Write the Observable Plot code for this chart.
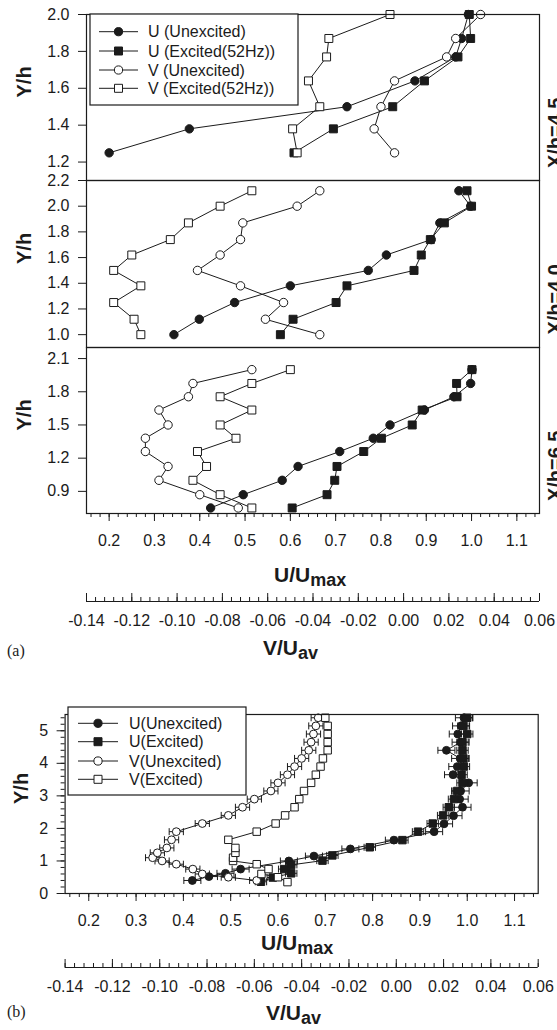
<!DOCTYPE html>
<html>
<head>
<meta charset="utf-8">
<title>Mean velocity profiles</title>
<script src="https://cdn.jsdelivr.net/npm/d3@7"></script>
<script src="https://cdn.jsdelivr.net/npm/@observablehq/plot@0.6"></script>
<style>
  html, body { margin: 0; padding: 0; background: #fff; }
  #fig { position: relative; width: 557px; height: 1030px; overflow: hidden; background: #fff;
         font-family: Arial, "Liberation Sans", Helvetica, sans-serif; }
  .layer { position: absolute; left: 0; width: 557px; }
  .layer svg { display: block; overflow: visible; }
</style>
</head>
<body>
<div id="fig"></div>
<script>
// ---------- shared axes ----------
const U_DOMAIN = [0.15, 1.15];     // U/Umax (bottom axis)
const V_DOMAIN = [-0.14, 0.06];    // V/Uav (secondary axis, same width)
const U_TICKS = [0.2, 0.3, 0.4, 0.5, 0.6, 0.7, 0.8, 0.9, 1.0, 1.1];
const V_TICKS = [-0.14, -0.12, -0.10, -0.08, -0.06, -0.04, -0.02, 0.00, 0.02, 0.04, 0.06];
const U_MINOR = d3.range(0.16, 1.145, 0.02);
const V_MINOR = d3.range(-0.14, 0.0605, 0.004);

// ---------- (a) X/h = 4.5 ----------
const yA45      = [1.25, 1.38, 1.50, 1.64, 1.77, 1.87, 2.00];
const uUnexA45  = [0.200, 0.377, 0.725, 0.875, 0.965, 0.978, 0.993];
const uExcA45   = [0.608, 0.695, 0.826, 0.896, 0.970, 0.998, 0.995];
const vUnexA45  = [-0.004, -0.013, -0.010, -0.004, 0.019, 0.023, 0.034];
const vExcA45   = [-0.047, -0.049, -0.037, -0.042, -0.034, -0.033, -0.006];
const yTicksA45 = [1.2, 1.4, 1.6, 1.8, 2.0];

// ---------- (a) X/h = 4.0 ----------
const yA40      = [1.00, 1.12, 1.25, 1.38, 1.50, 1.62, 1.74, 1.87, 2.00, 2.12];
const uUnexA40  = [0.343, 0.399, 0.477, 0.600, 0.772, 0.812, 0.911, 0.930, 0.998, 0.972];
const uExcA40   = [0.578, 0.606, 0.701, 0.725, 0.873, 0.889, 0.909, 0.940, 1.000, 0.990];
const vUnexA40  = [-0.037, -0.061, -0.053, -0.072, -0.091, -0.081, -0.072, -0.071, -0.047, -0.037];
const vExcA40   = [-0.116, -0.119, -0.128, -0.116, -0.128, -0.120, -0.103, -0.095, -0.081, -0.067];
const yTicksA40 = [1.0, 1.2, 1.4, 1.6, 1.8, 2.0, 2.2];

// ---------- (a) X/h = 6.5 ----------
const yA65      = [0.75, 0.87, 1.00, 1.125, 1.26, 1.38, 1.50, 1.635, 1.755, 1.875, 2.00];
const uUnexA65  = [0.424, 0.496, 0.582, 0.617, 0.709, 0.783, 0.820, 0.896, 0.961, 0.998, 1.001];
const uExcA65   = [0.604, 0.681, 0.698, 0.703, 0.762, 0.801, 0.869, 0.891, 0.968, 0.967, 1.001];
const vUnexA65  = [-0.073, -0.090, -0.108, -0.104, -0.114, -0.114, -0.104, -0.108, -0.095, -0.093, -0.067];
const vExcA65   = [-0.067, -0.081, -0.093, -0.087, -0.091, -0.074, -0.081, -0.067, -0.081, -0.067, -0.050];
const yTicksA65 = [0.9, 1.2, 1.5, 1.8, 2.1];

// ---------- (b) full profile ----------
const yUB     = [0.40, 0.52, 0.62, 0.75, 1.00, 1.15, 1.37, 1.64, 1.90, 2.14, 2.39, 2.65, 2.90, 3.15, 3.40, 3.65, 3.90, 4.15, 4.40, 4.65, 4.90, 5.15, 5.40];
const uUnexB  = [0.419, 0.454, 0.489, 0.521, 0.623, 0.676, 0.753, 0.845, 0.930, 0.951, 0.971, 0.990, 0.984, 0.986, 1.003, 0.970, 0.979, 0.985, 0.956, 0.986, 0.980, 0.987, 0.993];
const yUExcB  = [0.36, 0.49, 0.62, 0.75, 0.88, 1.01, 1.17, 1.42, 1.64, 1.90, 2.15, 2.40, 2.65, 2.90, 3.15, 3.40, 3.65, 3.90, 4.15, 4.40, 4.65, 4.90, 5.15, 5.40];
const uExcB   = [0.564, 0.589, 0.628, 0.613, 0.628, 0.694, 0.715, 0.794, 0.863, 0.896, 0.927, 0.949, 0.961, 0.972, 0.979, 0.990, 0.988, 0.993, 0.992, 0.990, 0.990, 1.000, 0.992, 1.000];
const yVB     = [0.40, 0.50, 0.60, 0.75, 0.90, 1.00, 1.10, 1.25, 1.40, 1.65, 1.90, 2.15, 2.40, 2.65, 2.90, 3.15, 3.40, 3.65, 3.90, 4.15, 4.40, 4.65, 4.90, 5.15, 5.40];
const vUnexB  = [-0.059, -0.071, -0.082, -0.086, -0.093, -0.099, -0.103, -0.101, -0.097, -0.095, -0.093, -0.082, -0.071, -0.065, -0.060, -0.053, -0.050, -0.046, -0.043, -0.040, -0.037, -0.036, -0.035, -0.034, -0.033];
const yVExcB  = [0.35, 0.50, 0.60, 0.75, 0.90, 1.00, 1.10, 1.25, 1.40, 1.65, 1.90, 2.15, 2.40, 2.65, 2.90, 3.15, 3.40, 3.65, 3.90, 4.15, 4.40, 4.65, 4.90, 5.15, 5.40];
const vExcB   = [-0.046, -0.050, -0.057, -0.054, -0.059, -0.069, -0.069, -0.068, -0.068, -0.071, -0.059, -0.051, -0.047, -0.043, -0.041, -0.039, -0.036, -0.034, -0.032, -0.031, -0.029, -0.029, -0.029, -0.029, -0.030];
const errUUnexB = 0.018;   // half-width of error bars, U/Umax units
const errUExcB  = 0.012;
const errVUnexB = 0.003;   // V/Uav units
const yTicksB   = [0, 1, 2, 3, 4, 5];
const yMinorB   = d3.range(0, 5.41, 0.2);

const LEGEND_A = ["U (Unexcited)", "U (Excited(52Hz))", "V (Unexcited)", "V (Excited(52Hz))"];
const LEGEND_B = ["U(Unexcited)", "U(Excited)", "V(Unexcited)", "V(Excited)"];

// ---------- drawing helpers ----------
const FONT = 'Arial, "Liberation Sans", Helvetica, sans-serif';
const INK = "#1b1b1b";
const fig = document.getElementById("fig");
const vToU = d3.scaleLinear().domain(V_DOMAIN).range(U_DOMAIN);

const STYLES = [
  {symbol: "circle", fill: INK},     // U unexcited
  {symbol: "square", fill: INK},     // U excited
  {symbol: "circle", fill: "white"}, // V unexcited
  {symbol: "square", fill: "white"}  // V excited
];

// vertical cap for error bars
const capSymbol = {draw(ctx, size) { const h = Math.sqrt(size / Math.PI); ctx.moveTo(0, -h); ctx.lineTo(0, h); }};

function toRows(ys, vals, isV, err = 0) {
  return ys.map((y, i) => {
    const x = isV ? vToU(vals[i]) : vals[i];
    const e = isV ? vToU(vals[i] + err) - x : err;
    return {y, x, lo: x - e, hi: x + e};
  });
}

function seriesMarks(rows, style, rc, rs, withErr) {
  const marks = [];
  if (withErr) {
    marks.push(Plot.link(rows, {x1: "lo", x2: "hi", y1: "y", y2: "y", stroke: INK, strokeWidth: 1}));
    marks.push(Plot.dot(rows, {x: "lo", y: "y", symbol: capSymbol, r: 3.5, stroke: INK, fill: "none", strokeWidth: 1}));
    marks.push(Plot.dot(rows, {x: "hi", y: "y", symbol: capSymbol, r: 3.5, stroke: INK, fill: "none", strokeWidth: 1}));
  }
  marks.push(Plot.line(rows, {x: "x", y: "y", stroke: INK, strokeWidth: 1}));
  marks.push(Plot.dot(rows, {x: "x", y: "y", symbol: style.symbol, r: style.symbol === "circle" ? rc : rs,
    fill: style.fill, stroke: INK, strokeWidth: 1}));
  return marks;
}

function addLayer(top, node) {
  const div = document.createElement("div");
  div.className = "layer";
  div.style.top = top + "px";
  div.appendChild(node);
  fig.appendChild(div);
}

const baseStyle = {background: "transparent", overflow: "visible", fontFamily: FONT, fontSize: "16px", color: INK};

// ---------- panel (a): three stations sharing the x axis ----------
const stations = [
  {name: "X/h=4.5", y: yA45, s: [uUnexA45, uExcA45, vUnexA45, vExcA45], domain: [1.1, 2.0], ticks: yTicksA45, top: 0, mt: 14, fh: 166},
  {name: "X/h=4.0", y: yA40, s: [uUnexA40, uExcA40, vUnexA40, vExcA40], domain: [0.9, 2.2], ticks: yTicksA40, top: 180, mt: 0, fh: 167},
  {name: "X/h=6.5", y: yA65, s: [uUnexA65, uExcA65, vUnexA65, vExcA65], domain: [0.7, 2.2], ticks: yTicksA65, top: 347, mt: 0, fh: 166}
];

stations.forEach((st, i) => {
  const last = i === stations.length - 1;
  const mb = last ? 60 : 0;
  const data = st.s.flatMap((vals, k) => seriesMarks(toRows(st.y, vals, k >= 2), STYLES[k], 4.2, 4.5, false));
  const plot = Plot.plot({
    width: 557, height: st.mt + st.fh + mb,
    marginLeft: 86, marginRight: 18, marginTop: st.mt, marginBottom: mb,
    style: baseStyle,
    x: last ? {domain: U_DOMAIN} : {domain: U_DOMAIN, axis: null},
    y: {domain: st.domain},
    marks: [
      Plot.axisY({ticks: st.ticks, tickSize: 8, tickPadding: 9, tickFormat: d => d.toFixed(1), label: null}),
      ...(last ? [
        Plot.axisX({ticks: U_MINOR, tickSize: 4, tickFormat: () => "", label: null}),
        Plot.axisX({ticks: U_TICKS, tickSize: 8, tickPadding: 13, tickFormat: d => d.toFixed(1), label: null})
      ] : []),
      Plot.text(["Y/h"], {frameAnchor: "left", dx: -62, rotate: -90, fontWeight: "bold", fontSize: 20, fill: INK}),
      Plot.text([st.name], {frameAnchor: "right", dx: 16, rotate: -90, fontWeight: "bold", fontSize: 20, fill: INK}),
      ...data,
      Plot.frame({stroke: INK, strokeWidth: 1.2})
    ]
  });
  addLayer(st.top, plot);
});

// ---------- secondary V/Uav axis ----------
function vAxis(marginLeft, marginRight) {
  return Plot.plot({
    width: 557, height: 48, marginTop: 0, marginBottom: 40, marginLeft, marginRight,
    style: baseStyle,
    x: {domain: V_DOMAIN},
    y: {domain: [0, 1], axis: null},
    marks: [
      Plot.ruleX(V_MINOR, {insetTop: 4, stroke: INK}),
      Plot.ruleX(V_TICKS, {stroke: INK}),
      Plot.ruleY([0], {stroke: INK}),
      Plot.axisX({ticks: V_TICKS, tickSize: 0, tickPadding: 13, tickFormat: d => d.toFixed(2), label: null})
    ]
  });
}
addLayer(593, vAxis(86, 18));

// ---------- panel (b): full-height profile with error bars ----------
const bSeries = [
  seriesMarks(toRows(yUB, uUnexB, false, errUUnexB), STYLES[0], 3.9, 4.2, true),
  seriesMarks(toRows(yUExcB, uExcB, false, errUExcB), STYLES[1], 3.9, 4.2, true),
  seriesMarks(toRows(yVB, vUnexB, true, errVUnexB), STYLES[2], 3.9, 4.2, true),
  seriesMarks(toRows(yVExcB, vExcB, true), STYLES[3], 3.9, 4.2, false)
].flat();

const plotB = Plot.plot({
  width: 557, height: 14 + 179 + 60,
  marginLeft: 64.6, marginRight: 19.3, marginTop: 14, marginBottom: 60,
  style: baseStyle,
  x: {domain: U_DOMAIN},
  y: {domain: [0, 5.5]},
  marks: [
    Plot.axisY({ticks: yMinorB, tickSize: 4, tickFormat: () => "", label: null}),
    Plot.axisY({ticks: yTicksB, tickSize: 8, tickPadding: 9, tickFormat: d => String(d), label: null}),
    Plot.axisX({ticks: U_MINOR, tickSize: 4, tickFormat: () => "", label: null}),
    Plot.axisX({ticks: U_TICKS, tickSize: 8, tickPadding: 13, tickFormat: d => d.toFixed(1), label: null}),
    Plot.text(["Y/h"], {frameAnchor: "left", dx: -43.6, rotate: -90, fontWeight: "bold", fontSize: 20, fill: INK}),
    ...bSeries,
    Plot.frame({stroke: INK, strokeWidth: 1.2})
  ]
});
addLayer(700, plotB);
addLayer(959, vAxis(64.6, 19.3));

// ---------- legends, axis titles and part labels ----------
const overlay = d3.create("svg")
  .attr("width", 557).attr("height", 1030)
  .style("position", "absolute").style("left", 0).style("top", 0)
  .attr("font-family", FONT);

function legend(box, rows, labels) {
  const g = overlay.append("g");
  g.append("rect").attr("x", box.x).attr("y", box.y).attr("width", box.w).attr("height", box.h)
    .attr("fill", "white").attr("stroke", INK).attr("stroke-width", 1.2);
  labels.forEach((label, i) => {
    const cy = rows[i], st = STYLES[i];
    g.append("line").attr("x1", box.l1).attr("x2", box.l2).attr("y1", cy).attr("y2", cy)
      .attr("stroke", INK).attr("stroke-width", 1);
    const type = st.symbol === "circle" ? d3.symbolCircle : d3.symbolSquare;
    const size = st.symbol === "circle" ? Math.PI * 4.1 * 4.1 : 64;
    g.append("path").attr("d", d3.symbol(type, size)()).attr("transform", `translate(${box.m},${cy})`)
      .attr("fill", st.fill).attr("stroke", INK);
    g.append("text").attr("x", box.t).attr("y", cy).attr("dy", "0.36em")
      .attr("font-size", 16).attr("fill", INK).text(label);
  });
}
legend({x: 90, y: 14, w: 208, h: 91, l1: 99, l2: 138, m: 118.5, t: 148}, [31.7, 51, 70, 88.3], LEGEND_A);
legend({x: 68, y: 707, w: 178, h: 88, l1: 78, l2: 118, m: 98, t: 129}, [723.3, 741.7, 761, 779.3], LEGEND_B);

function title(x, y, main, sub) {
  const t = overlay.append("text").attr("x", x).attr("y", y).attr("fill", INK).attr("font-weight", "bold");
  t.append("tspan").attr("font-size", 21).text(main);
  t.append("tspan").attr("font-size", 18).attr("dy", 4).text(sub);
}
title(274, 582, "U/U", "max");
title(263, 655, "V/U", "av");
title(261, 950, "U/U", "max");
title(266, 1020, "V/U", "av");

const SERIF = '"Liberation Serif", "Times New Roman", serif';
overlay.append("text").attr("x", 7).attr("y", 656).attr("font-family", SERIF)
  .attr("font-size", 16).attr("fill", INK).text("(a)");
overlay.append("text").attr("x", 7).attr("y", 1017).attr("font-family", SERIF)
  .attr("font-size", 16).attr("fill", INK).text("(b)");

fig.appendChild(overlay.node());
</script>
</body>
</html>
